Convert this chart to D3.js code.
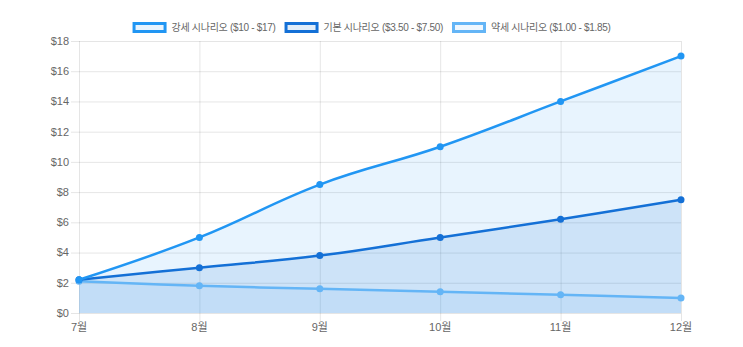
<!DOCTYPE html>
<html>
<head>
<meta charset="utf-8">
<script src="https://d3js.org/d3.v7.min.js"></script>
<style>
  body { margin: 0; background: #fff; }
  text { font-family: "Liberation Sans", Arial, "Noto Sans CJK KR", sans-serif; fill: #666; }
</style>
</head>
<body>
<svg width="743" height="347"></svg>
<script>
// data
var months = ["7월", "8월", "9월", "10월", "11월", "12월"];
var bullValues = [2.2, 5, 8.5, 11, 14, 17];
var baseValues = [2.2, 3, 3.8, 5, 6.2, 7.5];
var bearValues = [2.1, 1.8, 1.6, 1.4, 1.2, 1.0];
var yTicks = [0, 2, 4, 6, 8, 10, 12, 14, 16, 18];
var seriesNames = ["강세 시나리오 ($10 - $17)", "기본 시나리오 ($3.50 - $7.50)", "약세 시나리오 ($1.00 - $1.85)"];

var series = [
  { name: seriesNames[0], values: bullValues, line: "#2196f3", fill: "rgba(33,150,243,0.1)" },
  { name: seriesNames[1], values: baseValues, line: "#1470d6", fill: "rgba(25,118,210,0.13)" },
  { name: seriesNames[2], values: bearValues, line: "#64b5f6", fill: "rgba(100,181,246,0.1)" }
];

var svg = d3.select("svg"),
    W = 743,
    plotL = 79, plotR = 681, plotT = 41, plotB = 313;

var x = d3.scalePoint().domain(months).range([plotL, plotR]);
var y = d3.scaleLinear().domain([0, 18]).range([plotB, plotT]);

// grid
var grid = svg.append("g");
grid.selectAll(".hg").data(yTicks).enter().append("line")
  .attr("x1", plotL - 8).attr("x2", plotR)
  .attr("y1", function(d) { return y(d) + 0.5; })
  .attr("y2", function(d) { return y(d) + 0.5; })
  .attr("stroke", "rgba(0,0,0,0.1)");
grid.selectAll(".vg").data(months).enter().append("line")
  .attr("x1", function(d) { return x(d) + 0.5; })
  .attr("x2", function(d) { return x(d) + 0.5; })
  .attr("y1", plotT).attr("y2", plotB + 8)
  .attr("stroke", "rgba(0,0,0,0.1)");

// axis labels
svg.selectAll(".yl").data(yTicks).enter().append("text")
  .attr("x", plotL - 10).attr("y", function(d) { return y(d); })
  .attr("dy", "0.35em").attr("text-anchor", "end")
  .style("font-size", "11px")
  .text(function(d) { return "$" + d; });
svg.selectAll(".xl").data(months).enter().append("text")
  .attr("x", function(d) { return x(d); }).attr("y", plotB + 18)
  .attr("text-anchor", "middle")
  .style("font-size", "11px")
  .text(function(d) { return d; });

var curve = d3.curveCardinal.tension(-0.2);

var area = d3.area()
  .x(function(d, i) { return x(months[i]); })
  .y0(plotB)
  .y1(function(d) { return y(d); })
  .curve(curve);
var line = d3.line()
  .x(function(d, i) { return x(months[i]); })
  .y(function(d) { return y(d); })
  .curve(curve);

series.forEach(function(s) {
  svg.append("path").attr("d", area(s.values)).attr("fill", s.fill);
});
series.slice().reverse().forEach(function(s) {
  svg.append("path").attr("d", line(s.values))
    .attr("fill", "none").attr("stroke", s.line).attr("stroke-width", 2.5);
  svg.selectAll(null).data(s.values).enter().append("circle")
    .attr("cx", function(d, i) { return x(months[i]); })
    .attr("cy", function(d) { return y(d); })
    .attr("r", 3.5)
    .attr("fill", s.line);
});

// legend
var legend = svg.append("g");
var pos = 0;
series.forEach(function(s) {
  var item = legend.append("g").attr("transform", "translate(" + pos + ",0)");
  item.append("rect")
    .attr("x", 1.5).attr("y", 23.5).attr("width", 31).attr("height", 8)
    .attr("fill", s.fill).attr("stroke", s.line).attr("stroke-width", 3);
  var t = item.append("text")
    .attr("x", 39).attr("y", 27.5).attr("dy", "0.35em")
    .style("font-size", "10px")
    .style("letter-spacing", "-0.3px")
    .text(s.name);
  pos += 39 + t.node().getComputedTextLength() + 9;
});
legend.attr("transform", "translate(" + ((W - (pos - 9)) / 2) + ",0)");
</script>
</body>
</html>
